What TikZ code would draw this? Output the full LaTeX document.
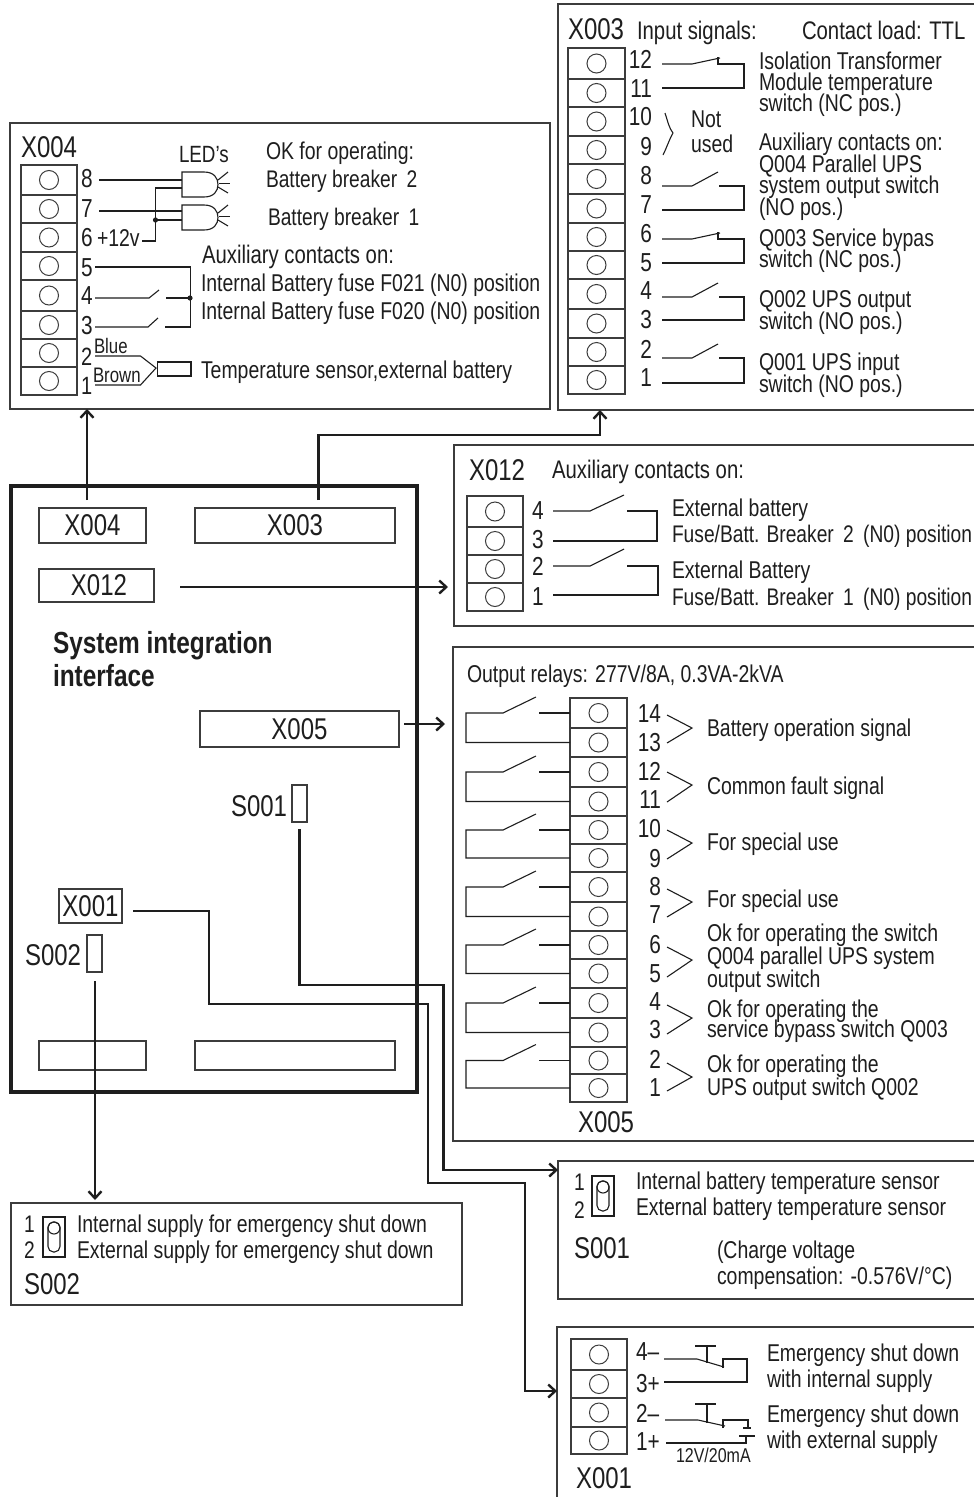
\documentclass[tikz,border=0pt]{standalone}
\usepackage{fontspec}
\setmainfont[FakeStretch=0.8]{Liberation Sans}
\usetikzlibrary{arrows.meta,calc}
\definecolor{ink}{HTML}{1E1E1E}
\definecolor{edge}{HTML}{3C3C3C}
\newcount\tcnt
\newcommand{\tx}[4]{\global\advance\tcnt by 1 \node[txt,font=\fontsize{#3}{#3}\selectfont] (t\the\tcnt) at (#1,#2) {#4};}
\newcommand{\tr}[3]{\global\advance\tcnt by 1 \node[txt,anchor=base east,font=\fontsize{26}{26}\selectfont] (t\the\tcnt) at (#1,#2) {#3};}
\newcommand{\tblock}[5]{% name, x, width, first y, further ys
  \foreach \yy [remember=\yy as \yp (initially #4), count=\i] in {#5} {
    \node[cell,minimum width=#3pt,minimum height={(\yy-\yp)*1pt},anchor=north west] (#1-\i) at (#2,\yp) {};
    \node[term] (#1-c\i) at (#1-\i.center) {};
  }}
\newcommand{\panel}[5]{\node[panelbox,anchor=north west,minimum width={(#4-#2)*1pt},minimum height={(#5-#3)*1pt}] (#1) at (#2,#3) {};}
\newcommand{\inner}[6]{\node[innerbox,anchor=north west,minimum width={(#4-#2)*1pt},minimum height={(#5-#3)*1pt},font=\fontsize{30}{30}\selectfont] (#1) at (#2,#3) {#6};}
% normally open contact, y1 y2
\newcommand{\nosw}[2]{\draw[wire] (662,#1) -- (692,#1) -- (718,#1-14);
  \draw[wire] (719,#1) -- (744,#1) -- (744,#2) -- (662,#2);}
\newcommand{\ncsw}[2]{\draw[wire] (662,#1) -- (692,#1) -- (720,#1-6);
  \draw[wire] (718,#1-7) -- (718,#1) -- (744,#1) -- (744,#2) -- (662,#2);}
\newcommand{\relay}[2]{\draw[wire] (#1.west) -- ++(-31,0);
  \draw[wire] (#2.west) -- ++(-104,0) |- ($(#1.west)+(-67,0)$) -- ++(33,-16);}
\newcommand{\chev}[3]{\draw[wire] (667,#1) -- (692,#2) -- (667,#3);}
\newcommand{\slider}[2]{\draw[wire] (#1,#2) rectangle ++(22,40);
  \draw[wire,rounded corners=5.5pt] (#1+5,#2+5) rectangle ++(12,30);
  \draw[wire] (#1+11,#2+11) circle (6);}
\begin{document}
\begin{tikzpicture}[x=1pt,y=-1pt,
  txt/.style={inner sep=0pt,outer sep=0pt,anchor=base west,text=ink},
  cell/.style={draw=edge,line width=1.2pt,inner sep=0pt,outer sep=0pt},
  term/.style={circle,draw=edge,line width=1pt,minimum size=19pt,inner sep=0pt},
  panelbox/.style={draw=edge,line width=1.4pt,inner sep=0pt,outer sep=0pt},
  innerbox/.style={draw=edge,line width=1.2pt,inner sep=0pt,outer sep=0pt,text=ink},
  wire/.style={draw=ink,line width=1.1pt,line join=miter},
  link/.style={draw=ink,line width=2.4pt,line join=miter},
  linkarrow/.style={link,-{Straight Barb[length=7pt,width=13pt,line width=2.4pt]}},
  dot/.style={fill=ink}]
\path[fill=white] (0,0) rectangle (974,1497);
\useasboundingbox (0,0) rectangle (974,1497);
% ---------- panels
\panel{p4}{10}{123}{550}{409}
\panel{p3}{558}{4}{990}{410}
\panel{p12}{454}{445}{990}{626}
\panel{p5}{453}{647}{990}{1141}
\panel{ps1}{558}{1161}{990}{1299}
\panel{ps2}{11}{1203}{462}{1305}
\panel{p1}{557}{1327}{990}{1520}
% ---------- main box
\node[draw=ink,line width=3.6pt,anchor=north west,minimum width=406pt,minimum height=606pt,inner sep=0pt,outer sep=0pt] (main) at (11,486) {};
\inner{b4}{39}{508}{146}{543}{X004}
\inner{b3}{195}{508}{395}{543}{X003}
\inner{b12}{39}{569}{154}{602}{\hspace*{5pt}X012}
\inner{b5}{200}{711}{399}{747}{X005}
\inner{bs1}{292}{785}{307}{822}{}
\inner{b1}{59}{889}{122}{923}{X001}
\inner{bs2}{87}{935}{102}{972}{}
\inner{be1}{39}{1041}{146}{1070}{}
\inner{be2}{195}{1041}{395}{1070}{}
\tx{53}{653}{30.5}{\bfseries System integration}
\tx{53}{686}{30.5}{\bfseries interface}
\tx{231}{816}{30}{S001}
\tx{25}{965}{30}{S002}
% ---------- links
\coordinate (s4) at (87,500);
\coordinate (s3) at (318.5,500);
\coordinate (c3) at (600,435);
\coordinate (s12) at (180,587);
\coordinate (s5) at (404,724);
\coordinate (sS1) at (299.5,829);
\coordinate (eS1) at (443.5,1170);
\coordinate (sX1) at (133,911);
\coordinate (eX1) at (525,1391);
\coordinate (sS2) at (95,981);
\draw[linkarrow] (s4) -- (s4 |- p4.south);
\draw[linkarrow] (s3) |- (c3) -- (c3 |- p3.south);
\draw[linkarrow,shorten >=6pt] (s12) -- (s12 -| p12.west);
\draw[linkarrow,shorten >=8pt] (s5) -- (s5 -| p5.west);
\draw[linkarrow] (sS1) |- (443.5,985) -- (eS1) -- (eS1 -| ps1.west);
\draw[linkarrow] (sX1) -- (209,911) -- (209,1004) -- (428,1004) -- (428,1183) -- (525,1183) -- (eX1) -- (eX1 -| p1.west);
\draw[linkarrow,shorten >=3pt] (sS2) -- (sS2 |- ps2.north);
% ---------- X004
\tx{21}{157}{30}{X004}
\tblock{a}{21}{56}{165}{195,223,252,280,311,339,367,395}
\tx{81}{187}{26}{8}\tx{81}{217}{26}{7}\tx{81}{246}{26}{6}\tx{97}{246}{24.3}{+12v}
\tx{81}{276}{26}{5}\tx{81}{304}{26}{4}\tx{81}{334}{26}{3}
\tx{81}{365}{25}{2}\tx{81}{394}{25}{1}
\tx{94}{353}{21}{Blue}\tx{93}{382}{21}{Brown}
\tx{179}{162}{23.5}{LED's}
\tx{266}{159}{24.3}{OK for operating:}
\tx{266}{187}{24}{Battery breaker\, 2}
\tx{268}{225}{24}{Battery breaker\, 1}
\tx{202}{263}{25.4}{Auxiliary contacts on:}
\tx{201}{291}{24.3}{Internal Battery fuse F021 (N0) position}
\tx{201}{319}{24.3}{Internal Battery fuse F020 (N0) position}
\tx{201}{378}{24.3}{Temperature sensor,external battery}
\draw[wire] (99,180) -- (182,180);
\draw[wire] (99,211) -- (182,211);
\draw[wire] (142,241) -- (155.5,241) -- (155.5,188) -- (182,188);
\draw[wire] (155.5,220) -- (182,220);
\fill[dot] (155.5,220) circle (2.6);
\foreach \o in {0,33} {
  \draw[wire] (182,172+\o) -- (204,172+\o) .. controls (214,172+\o) and (218,178+\o) .. (218,184.5+\o) .. controls (218,191+\o) and (214,197+\o) .. (204,197+\o) -- (182,197+\o) -- cycle;
  \draw[wire] (218,180+\o) -- (228,172+\o);
  \draw[wire] (219,183.5+\o) -- (229.5,183.5+\o);
  \draw[wire] (218,187+\o) -- (228,193+\o);
}
\draw[wire] (95,267) -- (190.5,267) -- (190.5,327) -- (164.5,327);
\draw[wire] (95,298) -- (149,298) -- (159,290);
\draw[wire] (166,298) -- (190.5,298);
\fill[dot] (190,298) circle (2.6);
\draw[wire] (95,327) -- (148,327) -- (158,318);
\draw[wire] (95,356) -- (140.5,356) -- (156,368) -- (140.5,385) -- (95,385);
\draw[wire] (157.5,362) rectangle (191,376);
% ---------- X003
\tx{568}{39}{30}{X003}
\tx{637}{39}{25.4}{Input signals:}
\tx{802}{39}{25.4}{Contact load: TTL}
\tblock{b}{568}{57}{48}{79,107,136,164,194,223,251,279,309,338,366,394}
\tr{652}{68}{12}\tr{652}{97}{11}\tr{652}{125}{10}\tr{652}{155}{9}
\tr{652}{184}{8}\tr{652}{213}{7}\tr{652}{242}{6}\tr{652}{271}{5}
\tr{652}{299}{4}\tr{652}{328}{3}\tr{652}{358}{2}\tr{652}{386}{1}
\ncsw{64}{88}
\nosw{186}{210}
\ncsw{239}{263}
\nosw{297}{320}
\nosw{358}{383}
\draw[wire] (665,113) .. controls (668,122) and (669,128) .. (673,133) .. controls (669,140) and (667,147) .. (663,155);
\tx{691}{127}{24.3}{Not}\tx{691}{152}{24.3}{used}
\tx{759}{69}{24.3}{Isolation Transformer}
\tx{759}{90}{24.3}{Module temperature}
\tx{759}{111}{24.3}{switch (NC pos.)}
\tx{759}{150}{24.3}{Auxiliary contacts on:}
\tx{759}{172}{24.3}{Q004 Parallel UPS}
\tx{759}{193}{24.3}{system output switch}
\tx{759}{215}{24.3}{(NO pos.)}
\tx{759}{246}{24.3}{Q003 Service bypas}
\tx{759}{267}{24.3}{switch (NC pos.)}
\tx{759}{307}{24.3}{Q002 UPS output}
\tx{759}{329}{24.3}{switch (NO pos.)}
\tx{759}{370}{24.3}{Q001 UPS input}
\tx{759}{392}{24.3}{switch (NO pos.)}
% ---------- X012
\tx{469}{480}{30}{X012}
\tx{552}{478}{25.4}{Auxiliary contacts on:}
\tblock{c}{467}{56}{496}{527,555,583,611}
\tx{532}{519}{26}{4}\tx{532}{548}{26}{3}\tx{532}{575}{26}{2}\tx{532}{605}{26}{1}
\draw[wire] (553,511) -- (590,511) -- (624,495);
\draw[wire] (627,511) -- (657,511) -- (657,541) -- (553,541);
\draw[wire] (553,566) -- (590,566) -- (624,549);
\draw[wire] (627,566) -- (658,566) -- (658,595) -- (553,595);
\tx{672}{516}{24.3}{External battery}
\tx{672}{542}{24}{Fuse/Batt. Breaker\, 2\, (N0) position}
\tx{672}{578}{24.3}{External Battery}
\tx{672}{605}{24}{Fuse/Batt. Breaker\, 1\, (N0) position}
% ---------- X005
\tx{467}{682}{24.3}{Output relays: 277V/8A, 0.3VA-2kVA}
\tblock{d}{570}{57}{698}{728,757,787,816,844,872,902,931,959,988,1018,1047,1074,1102}
\relay{d-1}{d-2}\relay{d-3}{d-4}\relay{d-5}{d-6}\relay{d-7}{d-8}
\relay{d-9}{d-10}\relay{d-11}{d-12}\relay{d-13}{d-14}
\tr{661}{722}{14}\tr{661}{751}{13}\tr{661}{780}{12}\tr{661}{808}{11}
\tr{661}{837}{10}\tr{661}{867}{9}\tr{661}{895}{8}\tr{661}{923}{7}
\tr{661}{953}{6}\tr{661}{982}{5}\tr{661}{1010}{4}\tr{661}{1038}{3}
\tr{661}{1068}{2}\tr{661}{1096}{1}
\chev{715}{728}{743}\chev{772}{785}{802}\chev{830}{843}{859}\chev{889}{902}{917}
\chev{947}{960}{977}\chev{1005}{1018}{1034}\chev{1063}{1077}{1091}
\tx{707}{736}{24.3}{Battery operation signal}
\tx{707}{794}{24.3}{Common fault signal}
\tx{707}{850}{24.3}{For special use}
\tx{707}{907}{24.3}{For special use}
\tx{707}{941}{24.3}{Ok for operating the switch}
\tx{707}{964}{24.3}{Q004 parallel UPS system}
\tx{707}{987}{24.3}{output switch}
\tx{707}{1017}{24.3}{Ok for operating the}
\tx{707}{1037}{24.3}{service bypass switch Q003}
\tx{707}{1072}{24.3}{Ok for operating the}
\tx{707}{1095}{24.3}{UPS output switch Q002}
\tx{578}{1132}{30}{X005}
% ---------- S001
\tx{574}{1190}{24}{1}\tx{574}{1218}{24}{2}
\slider{592}{1176}
\tx{636}{1189}{24.3}{Internal battery temperature sensor}
\tx{636}{1215}{24.3}{External battery temperature sensor}
\tx{574}{1258}{30}{S001}
\tx{717}{1258}{24.3}{(Charge voltage}
\tx{717}{1284}{24.3}{compensation: -0.576V/°C)}
% ---------- S002
\tx{24}{1232}{24}{1}\tx{24}{1258}{24}{2}
\slider{43}{1217}
\tx{77}{1232}{24.3}{Internal supply for emergency shut down}
\tx{77}{1258}{24.3}{External supply for emergency shut down}
\tx{24}{1294}{30}{S002}
% ---------- X001
\tblock{e}{571}{56}{1339}{1370,1398,1427,1454}
\tx{636}{1360}{26}{4–}\tx{636}{1392}{26}{3+}\tx{636}{1422}{26}{2–}\tx{636}{1450}{26}{1+}
\draw[wire] (664,1359) -- (697,1359) -- (724,1367);
\draw[wire] (723,1368) -- (723,1359) -- (747,1359) -- (747,1382) -- (664,1382);
\draw[wire] (695,1346) -- (716,1346);
\draw[wire] (707,1346) -- (707,1363);
\draw[wire] (665,1420) -- (698,1420) -- (725,1426);
\draw[wire] (723,1428) -- (723,1420) -- (748,1420) -- (748,1428);
\draw[wire] (743,1428) -- (751,1428);
\draw[wire] (695,1404) -- (716,1404);
\draw[wire] (707,1404) -- (707,1423);
\draw[wire] (666,1443) -- (746,1443) -- (746,1436);
\draw[wire] (739,1436) -- (755,1436);
\tx{676}{1462}{20}{12V/20mA}
\tx{767}{1361}{24.3}{Emergency shut down}
\tx{767}{1387}{24.3}{with internal supply}
\tx{767}{1422}{24.3}{Emergency shut down}
\tx{767}{1448}{24.3}{with external supply}
\tx{576}{1488}{30}{X001}
\end{tikzpicture}
\end{document}
